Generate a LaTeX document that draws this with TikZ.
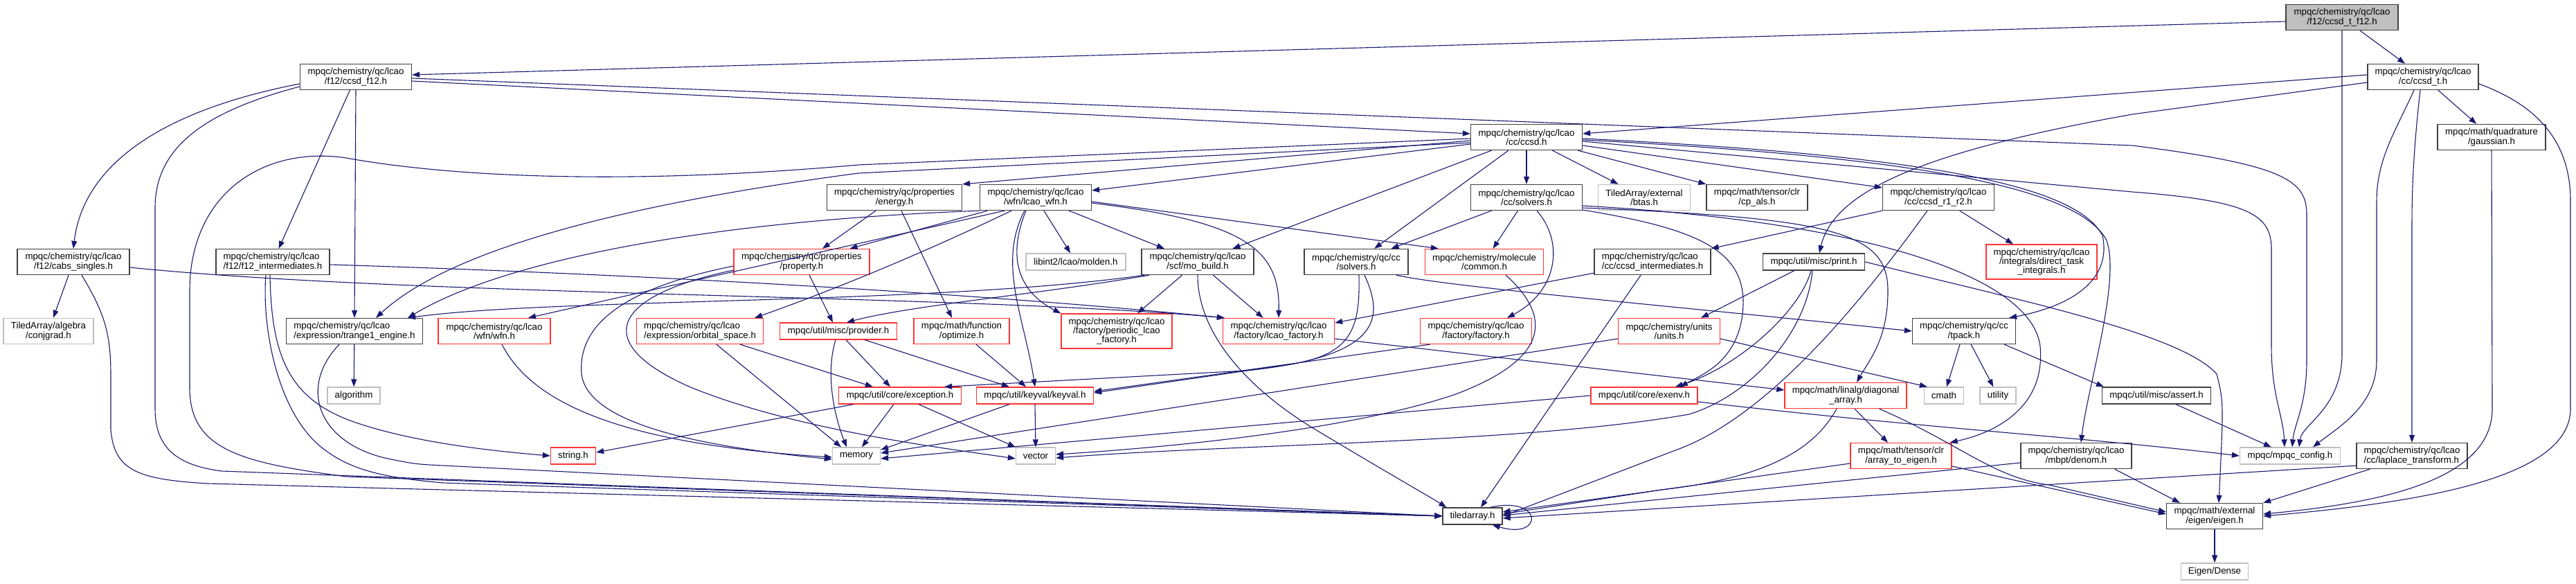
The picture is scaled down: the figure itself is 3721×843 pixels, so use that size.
\documentclass[tikz,border=0pt]{standalone}
\usepackage{fontspec}
\setmainfont{Liberation Sans}
\usetikzlibrary{arrows.meta,calc}
\definecolor{edgec}{HTML}{191970}
\definecolor{nred}{HTML}{FF3333}
\definecolor{ngray}{HTML}{BFBFBF}
\definecolor{nblack}{HTML}{404040}
\newcommand{\dxfont}{\fontsize{13.3}{13.3}\selectfont}
\tikzset{
  nb/.style={draw=nblack, line width=1.3pt, fill=white, inner sep=0pt, align=center, font=\dxfont},
  nr/.style={nb, draw=nred},
  ng/.style={nb, draw=ngray},
  wh/.style 2 args={minimum width=#1pt, minimum height=#2pt},
  dep/.style={draw=edgec, line width=1.1pt, -{Triangle[length=11pt,width=8pt]}},
}
\begin{document}
\begin{tikzpicture}[x=1pt,y=-1pt]
\useasboundingbox (0,0) rectangle (3721,843);
% ---------------- nodes
\node[nb, wh={162}{37}, fill=ngray] (root) at (3383,25) {mpqc/chemistry/qc/lcao\\/f12/ccsd\_t\_f12.h};
\node[nb, wh={161}{37}] (ccsdf12) at (514,111) {mpqc/chemistry/qc/lcao\\/f12/ccsd\_f12.h};
\node[nb, wh={160}{37}] (ccsdt) at (3500,111) {mpqc/chemistry/qc/lcao\\/cc/ccsd\_t.h};
\node[nb, wh={162}{37}] (cabs) at (106,378) {mpqc/chemistry/qc/lcao\\/f12/cabs\_singles.h};
\node[nb, wh={164}{37}, align=left] (f12int) at (394,378) {mpqc/chemistry/qc/lcao\\/f12/f12\_intermediates.h};
\node[nb, wh={161}{37}] (ccsd) at (2205,198) {mpqc/chemistry/qc/lcao\\/cc/ccsd.h};
\node[nb, wh={156}{37}] (gauss) at (3599,198) {mpqc/math/quadrature\\/gaussian.h};
\node[nb, wh={195}{37}] (energy) at (1292,285) {mpqc/chemistry/qc/properties\\/energy.h};
\node[nb, wh={161}{37}] (lcaowfn) at (1496,285) {mpqc/chemistry/qc/lcao\\/wfn/lcao\_wfn.h};
\node[nb, wh={161}{37}] (lccsolv) at (2205,285) {mpqc/chemistry/qc/lcao\\/cc/solvers.h};
\node[ng, wh={133}{37}] (btas) at (2375,285) {TiledArray/external\\/btas.h};
\node[nb, wh={146}{37}] (cpals) at (2538,285) {mpqc/math/tensor/clr\\/cp\_als.h};
\node[nb, wh={161}{37}] (r1r2) at (2800,285) {mpqc/chemistry/qc/lcao\\/cc/ccsd\_r1\_r2.h};
\node[nr, wh={196}{37}] (property) at (1158,378) {mpqc/chemistry/qc/properties\\/property.h};
\node[ng, wh={144}{24}] (molden) at (1554,378) {libint2/lcao/molden.h};
\node[nb, wh={162}{37}] (mobuild) at (1730,378) {mpqc/chemistry/qc/lcao\\/scf/mo\_build.h};
\node[nb, wh={150}{37}] (qccsolv) at (1959,378) {mpqc/chemistry/qc/cc\\/solvers.h};
\node[nr, wh={171}{37}] (common) at (2144,378) {mpqc/chemistry/molecule\\/common.h};
\node[nb, wh={168}{37}, align=left] (ccsdint) at (2387,378) {mpqc/chemistry/qc/lcao\\/cc/ccsd\_intermediates.h};
\node[nb, wh={147}{24}] (print) at (2620,378) {mpqc/util/misc/print.h};
\node[nr, wh={160}{50}] (direct) at (2949,378) {mpqc/chemistry/qc/lcao\\/integrals/direct\_task\\\_integrals.h};
\node[ng, wh={130}{37}] (conjgrad) at (70,478) {TiledArray/algebra\\/conjgrad.h};
\node[nb, wh={197}{37}, align=left] (trange) at (512,478) {mpqc/chemistry/qc/lcao\\/expression/trange1\_engine.h};
\node[nr, wh={162}{37}] (wfnh) at (714,478) {mpqc/chemistry/qc/lcao\\/wfn/wfn.h};
\node[nr, wh={183}{37}, align=left] (orbsp) at (1011,478) {mpqc/chemistry/qc/lcao\\/expression/orbital\_space.h};
\node[nr, wh={169}{24}] (provider) at (1211,478) {mpqc/util/misc/provider.h};
\node[nr, wh={138}{37}] (optimize) at (1389,478) {mpqc/math/function\\/optimize.h};
\node[nr, wh={160}{50}] (periodic) at (1613,478) {mpqc/chemistry/qc/lcao\\/factory/periodic\_lcao\\\_factory.h};
\node[nr, wh={161}{37}] (lcaofac) at (1847,478) {mpqc/chemistry/qc/lcao\\/factory/lcao\_factory.h};
\node[nr, wh={161}{37}] (factory) at (2132,478) {mpqc/chemistry/qc/lcao\\/factory/factory.h};
\node[nr, wh={147}{37}] (units) at (2411,478) {mpqc/chemistry/units\\/units.h};
\node[nb, wh={149}{37}] (tpack) at (2837,478) {mpqc/chemistry/qc/cc\\/tpack.h};
\node[ng, wh={76}{24}] (algorithm) at (511,571) {algorithm};
\node[nr, wh={177}{24}] (exception) at (1300,571) {mpqc/util/core/exception.h};
\node[nr, wh={169}{24}] (keyval) at (1495,571) {mpqc/util/keyval/keyval.h};
\node[nr, wh={154}{24}] (exenv) at (2375,571) {mpqc/util/core/exenv.h};
\node[nr, wh={176}{37}] (diag) at (2666,571) {mpqc/math/linalg/diagonal\\\_array.h};
\node[ng, wh={57}{24}] (cmath) at (2808,571) {cmath};
\node[ng, wh={52}{24}] (utility) at (2886,571) {utility};
\node[nb, wh={157}{24}] (assert) at (3115,571) {mpqc/util/misc/assert.h};
\node[nr, wh={65}{24}] (string) at (828,658) {string.h};
\node[ng, wh={69}{24}] (memory) at (1237,658) {memory};
\node[ng, wh={57}{24}] (vector) at (1496,658) {vector};
\node[nr, wh={146}{37}] (a2e) at (2746,658) {mpqc/math/tensor/clr\\/array\_to\_eigen.h};
\node[nb, wh={160}{37}] (denom) at (2999,658) {mpqc/chemistry/qc/lcao\\/mbpt/denom.h};
\node[ng, wh={145}{24}] (config) at (3308,658) {mpqc/mpqc\_config.h};
\node[nb, wh={160}{37}, align=left] (laplace) at (3484,658) {mpqc/chemistry/qc/lcao\\/cc/laplace\_transform.h};
\node[nb, wh={86}{24}] (tiledarray) at (2127,745) {tiledarray.h};
\node[nb, wh={139}{37}] (eigen) at (3199,745) {mpqc/math/external\\/eigen/eigen.h};
\node[ng, wh={97}{24}] (dense) at (3199,825) {Eigen/Dense};
% ---------------- edges
% root
\draw[dep] ($(root.west)+(0,6)$) -- ($(ccsdf12.east)+(0,-3)$);
\draw[dep] (root) -- (ccsdt);
\draw[dep] (root.south) -- (3383,510) .. controls (3383,590) and (3325,612) .. ($(config.north)+(13,0)$);
% ccsd_f12
\draw[dep] ($(ccsdf12.west)+(0,10)$) .. controls (230,160) and (120,240) .. (cabs.north);
\draw[dep] (ccsdf12) -- (f12int);
\draw[dep] (ccsdf12.south) -- (trange.north);
\draw[dep] ($(ccsdf12.east)+(0,6)$) -- ($(ccsd.west)+(0,-5)$);
\draw[dep] ($(ccsdf12.east)+(0,2)$) -- (3080,210) .. controls (3300,238) and (3332,260) .. (3332,310) -- (3332,520) .. controls (3332,585) and (3314,612) .. ($(config.north)+(3,0)$);
\draw[dep] ($(ccsdf12.west)+(0,14)$) .. controls (300,160) and (224,210) .. (224,300) -- (224,590) .. controls (224,650) and (260,672) .. (320,680) -- (tiledarray.west);
% cabs
\draw[dep] (cabs) -- (conjgrad);
\draw[dep] ($(cabs.south)+(12,0)$) .. controls (150,450) and (160,480) .. (160,540) -- (160,620) .. controls (165,680) and (200,692) .. (300,698) -- (tiledarray.west);
\draw[dep] ($(cabs.east)+(0,8)$) .. controls (600,428) and (1400,425) .. ($(lcaofac.north west)+(3,0)$);
% f12 intermediates
\draw[dep] ($(f12int.south)+(-10,0)$) .. controls (378,470) and (400,600) .. (470,650) .. controls (510,680) and (560,690) .. (640,697) -- (tiledarray.west);
\draw[dep] ($(f12int.south)+(-4,0)$) .. controls (392,520) and (420,580) .. (520,612) .. controls (600,638) and (700,650) .. (string.west);
\draw[dep] ($(f12int.east)+(0,4)$) .. controls (900,395) and (1400,422) .. ($(lcaofac.north west)+(3,0)$);
% ccsd_t
\draw[dep] ($(ccsdt.west)+(0,-3)$) -- ($(ccsd.east)+(0,-5)$);
\draw[dep] (ccsdt) -- (gauss);
\draw[dep] ($(ccsdt.west)+(0,8)$) -- (3080,165) .. controls (2800,215) and (2650,270) .. ($(print.north)+(8,0)$);
\draw[dep] ($(ccsdt.south)+(-13,0)$) .. controls (3460,190) and (3433,230) .. (3433,290) -- (3433,520) .. controls (3433,585) and (3380,615) .. ($(config.north)+(33,0)$);
\draw[dep] ($(ccsdt.south)+(-4,0)$) .. controls (3488,200) and (3484,260) .. (3484,320) -- (laplace.north);
\draw[dep] ($(ccsdt.east)+(0,10)$) .. controls (3660,150) and (3713,200) .. (3713,290) -- (3713,590) .. controls (3713,690) and (3500,725) .. (eigen.east);
% ccsd
\draw[dep] ($(ccsd.west)+(0,5)$) -- (energy.north east);
\draw[dep] ($(ccsd.west)+(0,10)$) -- ($(lcaowfn.east)+(0,-10)$);
\draw[dep] (ccsd) -- (mobuild);
\draw[dep] (ccsd) -- (qccsolv);
\draw[dep] (ccsd) -- (lccsolv);
\draw[dep] (ccsd) -- (btas);
\draw[dep] ($(ccsd.south east)+(-7,0)$) -- (cpals.north west);
\draw[dep] ($(ccsd.east)+(0,12)$) -- ($(r1r2.north west)+(0,5)$);
\draw[dep] ($(ccsd.west)+(0,8)$) -- (1240,250) .. controls (900,295) and (650,360) .. ($(trange.north)+(31,0)$);
\draw[dep] ($(ccsd.west)+(0,2)$) -- (1240,238) .. controls (900,268) and (650,255) .. (500,228) .. controls (380,210) and (274,280) .. (274,420) -- (274,560) .. controls (274,650) and (350,668) .. (500,688) -- (tiledarray.west);
\draw[dep] ($(ccsd.east)+(0,6)$) -- (3080,277) .. controls (3250,290) and (3281,310) .. (3281,360) -- (3281,500) .. controls (3281,570) and (3298,600) .. ($(config.north)+(-8,0)$);
\draw[dep] ($(ccsd.east)+(0,2)$) .. controls (2800,225) and (3000,270) .. (3037,340) .. controls (3050,400) and (3000,440) .. ($(tpack.north east)+(-10,0)$);
\draw[dep] ($(ccsd.east)+(0,4)$) .. controls (2800,228) and (3000,275) .. (3042,345) .. controls (3065,400) and (3015,560) .. ($(denom.north)+(7,0)$);
% lcao_wfn
\draw[dep] (lcaowfn) -- (property);
\draw[dep] (lcaowfn) -- (molden);
\draw[dep] (lcaowfn) -- (mobuild);
\draw[dep] ($(lcaowfn.east)+(0,6)$) -- ($(common.north west)+(20,0)$);
\draw[dep] (lcaowfn.south west) .. controls (1000,320) and (720,380) .. ($(trange.north east)+(-22,0)$);
\draw[dep] ($(lcaowfn.south)+(-45,0)$) -- ($(wfnh.north)+(49,0)$);
\draw[dep] ($(lcaowfn.south)+(-35,0)$) .. controls (1330,367) and (1200,420) .. ($(orbsp.north east)+(-13,0)$);
\draw[dep] ($(lcaowfn.south)+(-14,0)$) .. controls (1455,370) and (1470,420) .. (periodic.north west);
\draw[dep] ($(lcaowfn.south)+(-16,0)$) .. controls (1440,380) and (1480,460) .. (keyval.north);
\draw[dep] ($(lcaowfn.east)+(0,8)$) .. controls (1800,320) and (1849,360) .. (lcaofac.north);
% energy
\draw[dep] ($(energy.south)+(-27,0)$) -- ($(property.north)+(30,0)$);
\draw[dep] ($(energy.south)+(10,0)$) -- ($(optimize.north)+(-14,0)$);
% property
\draw[dep] ($(property.south)+(11,0)$) -- ($(provider.north)+(-8,0)$);
\draw[dep] ($(property.west)+(0,6)$) .. controls (880,420) and (835,480) .. (840,540) .. controls (850,620) and (1050,648) .. ($(memory.west)+(0,5)$);
\draw[dep] ($(property.west)+(0,12)$) .. controls (870,430) and (860,500) .. (1000,560) .. controls (1150,620) and (1350,645) .. ($(vector.west)+(0,4)$);
% mo_build
\draw[dep] ($(mobuild.south west)+(5,0)$) .. controls (1350,440) and (800,430) .. ($(trange.north east)+(-22,0)$);
\draw[dep] ($(mobuild.south west)+(12,0)$) .. controls (1500,425) and (1320,440) .. ($(provider.north)+(12,0)$);
\draw[dep] (mobuild) -- (periodic);
\draw[dep] (mobuild.south) .. controls (1730,480) and (1800,560) .. (1900,620) .. controls (2000,680) and (2070,720) .. ($(tiledarray.north west)+(6,0)$);
\draw[dep] (mobuild) -- (lcaofac);
% wfn.h, orbital_space, provider, optimize
\draw[dep] ($(wfnh.south)+(11,0)$) .. controls (765,575) and (880,640) .. ($(memory.west)+(0,2)$);
\draw[dep] ($(orbsp.south)+(24,0)$) -- ($(memory.north)+(-22,0)$);
\draw[dep] ($(orbsp.south east)+(-34,0)$) -- ($(exception.north west)+(50,0)$);
\draw[dep] ($(provider.south)+(-4,0)$) .. controls (1192,540) and (1205,600) .. ($(memory.north)+(-14,0)$);
\draw[dep] ($(provider.south)+(11,0)$) -- ($(exception.north)+(-14,0)$);
\draw[dep] ($(provider.south east)+(-47,0)$) -- ($(keyval.north west)+(48,0)$);
\draw[dep] ($(optimize.south)+(21,0)$) -- ($(keyval.north)+(-13,0)$);
% exception, keyval
\draw[dep] ($(exception.south)+(-9,0)$) -- ($(memory.north)+(8,0)$);
\draw[dep] ($(exception.south)+(27,0)$) -- (vector.north west);
\draw[dep] ($(exception.south west)+(22,0)$) -- ($(string.east)+(0,-5)$);
\draw[dep] ($(keyval.south west)+(48,0)$) -- ($(memory.north east)+(0,4)$);
\draw[dep] (keyval.south) -- (vector.north);
% qc/cc/solvers
\draw[dep] ($(qccsolv.south)+(4,0)$) .. controls (1965,480) and (1950,515) .. (1850,528) -- ($(keyval.east)+(0,-4)$);
\draw[dep] ($(qccsolv.south)+(12,0)$) .. controls (2000,460) and (1995,515) .. (1800,535) -- ($(exception.north east)+(-25,0)$);
\draw[dep] ($(qccsolv.south east)+(-18,0)$) .. controls (2100,415) and (2400,440) .. (tpack.west);
% common
\draw[dep] ($(common.south)+(31,0)$) .. controls (2245,460) and (2235,520) .. (2100,570) .. controls (1950,620) and (1700,645) .. ($(vector.east)+(0,-2)$);
% lcao/cc/solvers
\draw[dep] (lccsolv) -- (qccsolv);
\draw[dep] (lccsolv) -- (common);
\draw[dep] ($(lccsolv.south)+(15,0)$) .. controls (2260,350) and (2250,420) .. ($(factory.north)+(45,0)$);
\draw[dep] ($(lccsolv.east)+(0,18)$) .. controls (2450,330) and (2520,360) .. (2518,440) .. controls (2515,520) and (2460,540) .. ($(exenv.north)+(52,0)$);
\draw[dep] ($(lccsolv.east)+(0,15)$) .. controls (2650,315) and (2727,335) .. (2727,420) .. controls (2727,490) and (2700,520) .. ($(diag.north)+(16,0)$);
\draw[dep] ($(lccsolv.east)+(0,12)$) .. controls (2700,320) and (2935,400) .. (2947,500) .. controls (2955,590) and (2880,625) .. ($(a2e.north east)+(-3,0)$);
% ccsd_intermediates, r1r2
\draw[dep] ($(ccsdint.south west)+(0,-3)$) -- ($(lcaofac.east)+(0,-12)$);
\draw[dep] ($(ccsdint.south)+(-17,0)$) -- ($(tiledarray.north)+(12,0)$);
\draw[dep] (r1r2.south west) -- (ccsdint.north east);
\draw[dep] (r1r2) -- (direct);
\draw[dep] ($(r1r2.south)+(-16,0)$) .. controls (2700,420) and (2560,600) .. (2420,650) -- (tiledarray.east);
% print
\draw[dep] ($(print.south west)+(46,0)$) -- ($(units.north east)+(-28,0)$);
\draw[dep] ($(print.south)+(-4,0)$) .. controls (2600,450) and (2510,530) .. ($(exenv.north)+(45,0)$);
\draw[dep] ($(print.south)+(-2,0)$) .. controls (2610,480) and (2530,570) .. (2440,598) .. controls (2200,640) and (1800,640) .. ($(vector.east)+(0,3)$);
\draw[dep] (print.east) .. controls (2900,430) and (3150,480) .. (3202,540) .. controls (3212,580) .. ($(eigen.north)+(6,0)$);
% units, exenv, factory, lcao_factory
\draw[dep] ($(units.east)+(0,11)$) -- ($(cmath.north west)+(5,0)$);
\draw[dep] ($(units.west)+(0,11)$) -- ($(memory.east)+(0,-4)$);
\draw[dep] (exenv.west) -- ($(memory.east)+(0,4)$);
\draw[dep] ($(exenv.east)+(0,9)$) .. controls (2800,620) and (3000,630) .. (config.west);
\draw[dep] ($(factory.south west)+(15,0)$) -- ($(keyval.east)+(0,-6)$);
\draw[dep] ($(lcaofac.east)+(0,11)$) -- ($(diag.west)+(0,-8)$);
% tpack
\draw[dep] (tpack) -- (cmath);
\draw[dep] (tpack) -- (utility);
\draw[dep] ($(tpack.south east)+(-17,0)$) -- ($(assert.north west)+(3,0)$);
% diagonal_array, array_to_eigen, denom, laplace, gaussian
\draw[dep] ($(diag.south)+(13,0)$) -- ($(a2e.north)+(-19,0)$);
\draw[dep] ($(diag.south)+(-13,0)$) .. controls (2620,650) and (2550,690) .. (2400,707) -- ($(tiledarray.east)+(0,-3)$);
\draw[dep] ($(diag.south east)+(-40,0)$) .. controls (2830,640) and (2880,690) .. (2960,700) -- ($(eigen.west)+(0,-6)$);
\draw[dep] ($(a2e.west)+(0,11)$) -- ($(tiledarray.east)+(0,-6)$);
\draw[dep] ($(a2e.east)+(0,15)$) -- ($(eigen.west)+(0,-3)$);
\draw[dep] ($(denom.west)+(0,10)$) -- ($(tiledarray.east)+(0,-1)$);
\draw[dep] ($(denom.south east)+(-25,0)$) -- ($(eigen.north west)+(20,0)$);
\draw[dep] ($(laplace.south west)+(0,-5)$) -- ($(tiledarray.east)+(0,3)$);
\draw[dep] ($(laplace.south west)+(20,0)$) -- (eigen.north east);
\draw[dep] (gauss.south) -- (3600,590) .. controls (3600,690) and (3450,725) .. ($(eigen.east)+(0,-3)$);
\draw[dep] (eigen) -- (dense);
\draw[dep] ($(assert.south)+(28,0)$) -- ($(config.north west)+(46,0)$);
% trange1
\draw[dep] (trange) -- (algorithm);
\draw[dep] ($(trange.south)+(-22,0)$) .. controls (430,560) and (460,640) .. (560,662) .. controls (600,670) .. (640,672) -- (tiledarray.west);
% tiledarray self loop
\draw[dep] ($(tiledarray.north east)+(-18,0)$) .. controls (2230,715) and (2230,780) .. ($(tiledarray.south east)+(-15,0)$);
\end{tikzpicture}
\end{document}
